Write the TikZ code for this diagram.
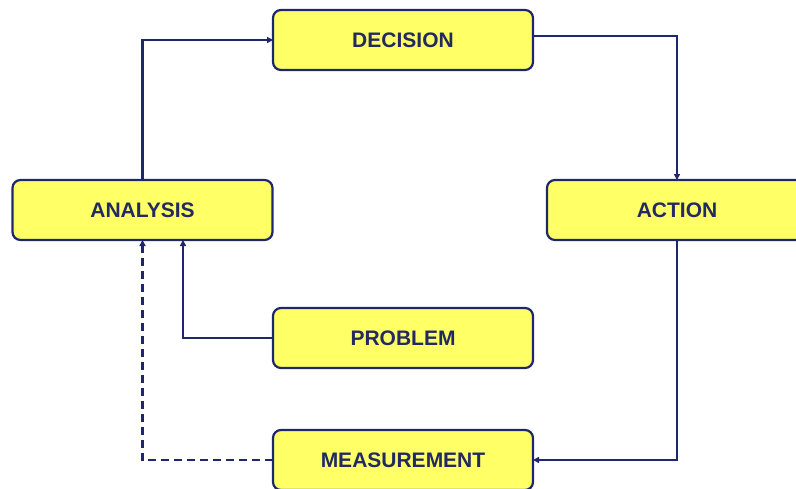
\documentclass[tikz,border=0pt]{standalone}
\usepackage{fontspec}
\setmainfont{Liberation Sans}
\usetikzlibrary{arrows.meta}
\definecolor{boxfill}{RGB}{255,255,102}
\definecolor{navy}{RGB}{30,38,110}
\definecolor{txt}{RGB}{35,42,95}
\tikzset{
  stagebox/.style={draw=navy, line width=2.2pt, fill=boxfill, rounded corners=8pt,
    minimum width=260pt, minimum height=60pt, inner sep=0pt, outer sep=0pt,
    font=\fontsize{21}{24}\selectfont\bfseries, text=txt},
  flow/.style={draw=navy, line width=2.2pt, -{Triangle[length=6pt,width=6pt]}},
  feedback/.style={flow, dash pattern=on 8pt off 5pt}
}
\begin{document}
\begin{tikzpicture}[x=1pt,y=-1pt]
\useasboundingbox (0,0) rectangle (796,488);
\node[stagebox] (decision) at (403,40) {DECISION};
\node[stagebox] (analysis) at (142.5,210) {ANALYSIS};
\node[stagebox] (action) at (677,210) {ACTION};
\node[stagebox] (problem) at (403,338) {PROBLEM};
\node[stagebox] (measure) at (403,460) {MEASUREMENT};
\draw[flow] (analysis.north) |- (decision.west);
\draw[flow] ([yshift=4pt]decision.east) -| (action.north);
\draw[flow] (action.south) |- (measure.east);
\draw[feedback] (measure.west) -| (analysis.south);
\draw[flow] (problem.west) -| ([xshift=40.5pt]analysis.south);
\end{tikzpicture}
\end{document}
